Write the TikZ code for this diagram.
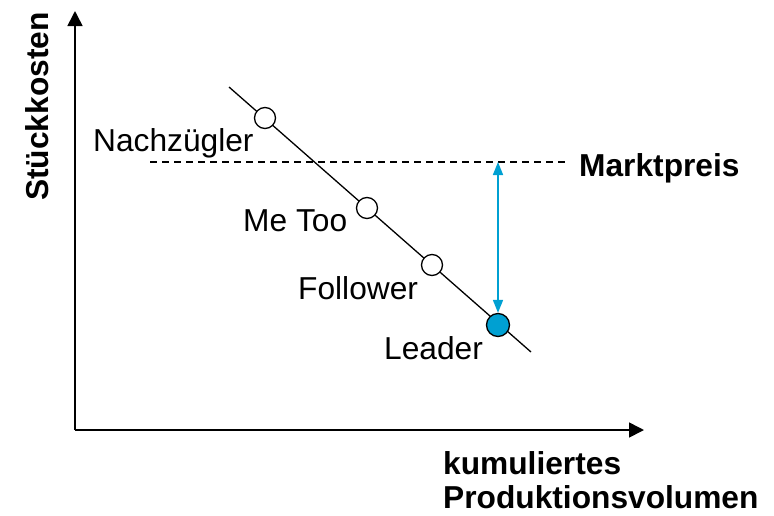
\documentclass[tikz,border=0pt]{standalone}
\usepackage{fontspec}
\setmainfont{Liberation Sans}
\usetikzlibrary{arrows.meta}
\definecolor{leaderblue}{RGB}{0,160,210}
\begin{document}
\begin{tikzpicture}[x=1pt,y=-1pt,
  lbl/.style={inner sep=0pt,font=\fontsize{31.7}{36}\selectfont},
  blbl/.style={inner sep=0pt,font=\fontsize{31.7}{36}\selectfont\bfseries},
  axis/.style={line width=1.6pt,-{Triangle[length=15pt,width=15pt]}},
  pt/.style={circle,draw=black,line width=1.3pt,fill=white,minimum size=21pt,inner sep=0pt},
  lead/.style={pt,fill=leaderblue,minimum size=23pt}]
\useasboundingbox (0,0) rectangle (774,515);
% axes
\coordinate (O) at (75,430);
\coordinate (ytip) at (75,11);
\coordinate (xtip) at (644,430);
\draw[axis] (O) -- (ytip);
\draw[axis] (O) -- (xtip);
% dashed market price line
\coordinate (d1) at (150,162);
\coordinate (d2) at (566,162);
\draw[line width=1.1pt,dash pattern=on 7pt off 5pt] (d1) -- (d2);
% experience curve
\coordinate (c1) at (229,87);
\coordinate (c2) at (531,352);
\draw[line width=1.3pt] (c1) -- (c2);
% points
\node[pt] (nz) at (265,118) {};
\node[pt] (mt) at (367,208) {};
\node[pt] (fo) at (432,265) {};
\node[lead] (le) at (498,325) {};
% blue arrow
\coordinate (mp) at (498,162);
\draw[leaderblue,line width=1.6pt,{Triangle[length=13pt,width=10pt]}-{Triangle[length=13pt,width=10pt]}] (mp) -- (le.north);
% labels
\node[lbl,anchor=base west] (tnz) at (93,151) {Nachzügler};
\node[lbl,anchor=base west] (tmt) at (243,231) {Me Too};
\node[lbl,anchor=base west] (tfo) at (298,299) {Follower};
\node[lbl,anchor=base west] (tle) at (384,359) {Leader};
\node[blbl,anchor=base west] (tmp) at (579,176) {Marktpreis};
\node[blbl,anchor=base west,rotate=90] (ty) at (48,201) {Stückkosten};
\node[blbl,anchor=base west] (tx1) at (443,474) {kumuliertes};
\node[blbl,anchor=base west] (tx2) at (443,508) {Produktionsvolumen};
\end{tikzpicture}
\end{document}
